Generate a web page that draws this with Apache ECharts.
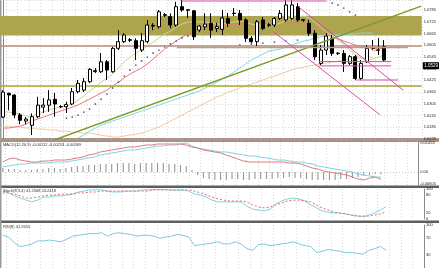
<!DOCTYPE html>
<html><head><meta charset="utf-8">
<script src="https://cdn.jsdelivr.net/npm/echarts@6/dist/echarts.min.js"></script>
<style>html,body{margin:0;padding:0;background:#fff;overflow:hidden}#c{width:439px;height:268px}</style>
</head><body><div id="c"></div>
<script>
// ---- data ----
const categories = Array.from({length: 73}, (_, i) => 'D' + (i + 1));
const open  = [1.0237,1.0359,1.0350,1.0248,1.0217,1.0195,1.0239,1.0288,1.0298,1.0328,1.0291,1.0290,1.0304,1.0367,1.0375,1.0418,1.0470,1.0469,1.0520,1.0469,1.0589,1.0623,1.0633,1.0628,1.0580,1.0623,1.0706,1.0699,1.0761,1.0751,1.0708,1.0802,1.0786,1.0781,1.0682,1.0699,1.0717,1.0690,1.0686,1.0742,1.0769,1.0768,1.0734,1.0640,1.0623,1.0734,1.0709,1.0708,1.0742,1.0734,1.0742,1.0802,1.0735,1.0717,1.0666,1.0512,1.0580,1.0640,1.0564,1.0563,1.0512,1.0546,1.0435,1.0520,1.0590,1.0581,1.0597];
const close = [1.0365,1.0350,1.0248,1.0221,1.0227,1.0239,1.0298,1.0299,1.0325,1.0304,1.0290,1.0302,1.0367,1.0410,1.0418,1.0481,1.0475,1.0520,1.0478,1.0589,1.0623,1.0657,1.0630,1.0589,1.0628,1.0708,1.0703,1.0776,1.0758,1.0708,1.0802,1.0785,1.0784,1.0648,1.0703,1.0713,1.0682,1.0700,1.0744,1.0717,1.0767,1.0734,1.0640,1.0623,1.0725,1.0691,1.0707,1.0742,1.0768,1.0811,1.0811,1.0734,1.0733,1.0666,1.0546,1.0580,1.0652,1.0563,1.0562,1.0512,1.0546,1.0435,1.0512,1.0589,1.0588,1.0579,1.0529];
const low   = [1.0232,1.0272,1.0232,1.0201,1.0201,1.0145,1.0232,1.0258,1.0264,1.0239,1.0283,1.0258,1.0298,1.0359,1.0365,1.0411,1.0463,1.0463,1.0427,1.0464,1.0580,1.0616,1.0621,1.0529,1.0570,1.0614,1.0682,1.0691,1.0749,1.0691,1.0699,1.0776,1.0744,1.0631,1.0672,1.0682,1.0642,1.0672,1.0657,1.0698,1.0754,1.0708,1.0621,1.0616,1.0601,1.0682,1.0698,1.0698,1.0734,1.0724,1.0734,1.0724,1.0724,1.0652,1.0529,1.0503,1.0555,1.0550,1.0555,1.0468,1.0503,1.0426,1.0426,1.0514,1.0580,1.0555,1.0519];
const high  = [1.0375,1.0362,1.0354,1.0258,1.0237,1.0256,1.0341,1.0334,1.0375,1.0360,1.0298,1.0316,1.0386,1.0427,1.0437,1.0488,1.0488,1.0565,1.0529,1.0597,1.0682,1.0667,1.0641,1.0640,1.0667,1.0734,1.0718,1.0785,1.0770,1.0768,1.0827,1.0836,1.0790,1.0785,1.0708,1.0768,1.0768,1.0720,1.0785,1.0770,1.0795,1.0785,1.0744,1.0652,1.0734,1.0749,1.0718,1.0749,1.0785,1.0836,1.0836,1.0821,1.0739,1.0734,1.0682,1.0606,1.0667,1.0657,1.0570,1.0580,1.0555,1.0555,1.0529,1.0606,1.0631,1.0642,1.0631];

const fastMA = [1.0263,1.0263,1.0258,1.0253,1.0242,1.0242,1.0253,1.0263,1.0273,1.0283,1.0288,1.0293,1.0304,1.0324,1.0345,1.0370,1.0391,1.0416,1.0437,1.0457,1.0488,1.0519,1.0544,1.0565,1.0580,1.0601,1.0621,1.0642,1.0662,1.0677,1.0698,1.0713,1.0724,1.0724,1.0724,1.0724,1.0718,1.0713,1.0713,1.0718,1.0724,1.0729,1.0724,1.0713,1.0708,1.0708,1.0708,1.0708,1.0718,1.0729,1.0744,1.0749,1.0754,1.0744,1.0724,1.0698,1.0672,1.0652,1.0631,1.0606,1.0580,1.0555,1.0539,1.0529,1.0534,1.0544,1.0555];
const pinkMA = [1.0181,1.0181,1.0186,1.0191,1.0201,1.0217,1.0227,1.0237,1.0247,1.0258,1.0268,1.0278,1.0288,1.0299,1.0314,1.0329,1.0345,1.0360,1.0375,1.0396,1.0416,1.0437,1.0457,1.0473,1.0488,1.0509,1.0534,1.0560,1.0585,1.0606,1.0626,1.0647,1.0662,1.0677,1.0693,1.0698,1.0703,1.0708,1.0708,1.0713,1.0713,1.0713,1.0713,1.0713,1.0718,1.0718,1.0718,1.0718,1.0718,1.0718,1.0718,1.0718,1.0713,1.0708,1.0693,1.0677,1.0662,1.0647,1.0637,1.0626,1.0616,1.0606,1.0601,1.0596,1.0590,1.0590,1.0585];
const cyanMA = [null,null,null,null,null,null,null,null,null,null,null,null,null,1.0130,1.0145,1.0165,1.0181,1.0196,1.0206,1.0217,1.0227,1.0237,1.0247,1.0258,1.0268,1.0278,1.0288,1.0299,1.0309,1.0319,1.0329,1.0340,1.0350,1.0360,1.0370,1.0386,1.0401,1.0416,1.0432,1.0447,1.0468,1.0488,1.0509,1.0529,1.0544,1.0560,1.0575,1.0580,1.0585,1.0596,1.0606,1.0616,1.0626,1.0631,1.0642,1.0647,1.0652,1.0657,1.0657,1.0662,1.0662,1.0662,1.0667,1.0667,1.0667];
const tanMA = [1.0191,1.0191,1.0186,1.0186,1.0181,1.0181,1.0176,1.0176,1.0171,1.0171,1.0165,1.0165,1.0160,1.0160,1.0155,1.0155,1.0150,1.0145,1.0140,1.0135,1.0135,1.0140,1.0145,1.0150,1.0155,1.0165,1.0176,1.0186,1.0201,1.0217,1.0232,1.0247,1.0263,1.0278,1.0293,1.0309,1.0324,1.0340,1.0350,1.0365,1.0375,1.0386,1.0396,1.0406,1.0416,1.0427,1.0437,1.0447,1.0457,1.0468,1.0478,1.0488,1.0493,1.0498,1.0503,1.0509,1.0514,1.0519,1.0524,1.0529,1.0534,1.0539,1.0539,1.0544,1.0544];
const sarDots = [[11,1.0232],[12,1.0237],[13,1.0247],[14,1.0263],[15,1.0278],[16,1.0304],[17,1.0329],[18,1.0355],[19,1.0386],[20,1.0416],[21,1.0447],[22,1.0478],[23,1.0503],[24,1.0524],[25,1.0544],[26,1.0565],[27,1.0580],[28,1.0596],[29,1.0611],[30,1.0626],[31,1.0642],[32,1.0652],[41,1.0606],[43,1.0611],[45,1.0616],[47,1.0621],[49,1.0626],[51,1.0631],[57,1.0821],[58,1.0811],[59,1.0795],[60,1.0775],[61,1.0759]];

// drawn objects (bar index, price)
const trendGreen = [[8.8, 1.0119], [72.4, 1.0805]];
const magentaTop = [[30.9, 1.0831], [56.0, 1.0831]];
const channelA = [[51.2, 1.0800], [69.3, 1.0375]];
const channelB = [[46.9, 1.0672], [65.3, 1.0248]];
const magentaLevel1 = [[54.7, 1.0521], [67.2, 1.0521]];
const magentaLevel2 = [[54.7, 1.0499], [67.2, 1.0499]];
const magentaLevel3 = [[61.2, 1.0427], [68.4, 1.0427]];
const brownShort = [[30.1, 1.0593], [70.1, 1.0593]];
const brownLevel = 1.0573;
const oliveLevel = 1.0375;
const bandTop = 1.0754, bandBottom = 1.0655;
const lastPrice = 1.0529;
const pivotMark = [[64.2, 1.0590]];

const macdMain = [0.0025,0.0030,0.0035,0.0040,0.0040,0.0045,0.0045,0.0045,0.0045,0.0050,0.0050,0.0050,0.0055,0.0060,0.0065,0.0070,0.0075,0.0085,0.0090,0.0095,0.0100,0.0105,0.0110,0.0110,0.0115,0.0120,0.0125,0.0130,0.0130,0.0135,0.0135,0.0140,0.0145,0.0130,0.0120,0.0115,0.0110,0.0105,0.0100,0.0100,0.0095,0.0090,0.0085,0.0080,0.0080,0.0075,0.0070,0.0065,0.0060,0.0060,0.0055,0.0050,0.0050,0.0045,0.0040,0.0030,0.0025,0.0020,0.0015,0.0010,0.0005,0.0000,-0.0010,-0.0015,-0.0020,-0.0025,-0.00253];
const macdSignal = [0.0050,0.0065,0.0070,0.0060,0.0055,0.0050,0.0050,0.0055,0.0055,0.0060,0.0060,0.0060,0.0065,0.0070,0.0075,0.0085,0.0090,0.0100,0.0105,0.0110,0.0115,0.0120,0.0125,0.0125,0.0130,0.0135,0.0135,0.0140,0.0140,0.0140,0.0140,0.0140,0.0135,0.0125,0.0120,0.0110,0.0105,0.0100,0.0095,0.0085,0.0075,0.0065,0.0055,0.0050,0.0050,0.0050,0.0050,0.0050,0.0050,0.0050,0.0045,0.0045,0.0040,0.0030,0.0020,0.0015,0.0005,0.0000,-0.0005,-0.0010,-0.0015,-0.0025,-0.0035,-0.0040,-0.0030,-0.0025,-0.00369];
const macdHist = [0.0020,0.0015,0.0015,0.0010,0.0010,0.0010,0.0015,0.0015,0.0020,0.0020,0.0015,0.0020,0.0025,0.0030,0.0030,0.0035,0.0035,0.0040,0.0040,0.0040,0.0045,0.0045,0.0045,0.0040,0.0045,0.0045,0.0045,0.0045,0.0045,0.0040,0.0040,0.0035,0.0030,0.0010,-0.0015,-0.0030,-0.0035,-0.0040,-0.0040,-0.0040,-0.0035,-0.0035,-0.0040,-0.0040,-0.0035,-0.0035,-0.0035,-0.0035,-0.0030,-0.0030,-0.0025,-0.0030,-0.0030,-0.0035,-0.0040,-0.0040,-0.0040,-0.0040,-0.0040,-0.0035,-0.0035,-0.0030,-0.0025,-0.0020,-0.0015,-0.0010,-0.00112];
const macdLabels = [0.01453, 0, -0.00605];

const stochK = [93,87,77,70,63,57,63,73,73,77,77,80,83,90,93,97,97,97,93,90,90,93,93,93,97,97,98,98,98,96,96,96,93,83,80,73,63,57,57,57,57,57,43,33,30,27,33,50,60,67,70,67,60,47,37,27,23,20,20,17,13,10,7,13,20,30,41.26];
const stochD = [87,87,83,77,70,70,73,77,80,80,83,83,83,87,87,90,90,93,93,93,93,93,93,93,93,93,97,97,97,97,97,97,97,93,87,80,73,67,63,60,60,60,57,47,40,37,40,47,53,60,63,63,60,57,47,37,30,23,20,17,13,10,10,10,13,17,24.24];
const stochLabels = [100, 80, 20, 0];
const rsi = [76,72,58,50,52,56,63,63,65,63,61,67,74,76,78,80,80,82,74,80,82,80,78,74,76,76,74,69,72,74,78,76,72,52,54,56,58,61,56,56,61,56,45,41,54,56,52,54,56,58,61,56,52,50,36,39,43,41,39,36,36,34,32,41,45,50,41.27];
const rsiLabels = [100, 70, 30];

// ---- chart ----
const FONT = 'Liberation Sans';
const lblStyle = {fontSize: 4, color: '#222', fontFamily: FONT, margin: 2};
const dotted = {type: [1, 2], color: '#bdbdbd', width: 0.6};
const candles = open.map((o, i) => [o, close[i], low[i], high[i]]);

function catAxis(gi) {
  return {type: 'category', gridIndex: gi, data: categories, boundaryGap: true,
    axisLine: {show: false}, axisTick: {show: false}, axisLabel: {show: false},
    splitLine: {show: true, interval: (i) => i % 2 === 1, lineStyle: dotted}};
}
function seg(name, data, color, width, type) {
  return {name, type: 'line', xAxisIndex: 4, yAxisIndex: 0, data, symbol: 'none', silent: true,
    lineStyle: {color, width, type: type || 'solid'}, z: 6};
}

const option = {
  animation: false,
  backgroundColor: '#ffffff',
  title: [
    {text: 'MACD(12,26,9) -0.00112 -0.00253 -0.00369', left: 3, top: 143, padding: 0,
      textStyle: {fontSize: 4, color: '#333', fontWeight: 'normal', fontFamily: FONT}},
    {text: 'Stoch(8,3,4) 41.2568 24.2418', left: 3, top: 189, padding: 0,
      textStyle: {fontSize: 4, color: '#333', fontWeight: 'normal', fontFamily: FONT}},
    {text: 'RSI(8) 41.2655', left: 3, top: 225, padding: 0,
      textStyle: {fontSize: 4, color: '#333', fontWeight: 'normal', fontFamily: FONT}}
  ],
  grid: [
    {left: -1, width: 425, top: 0, height: 139},
    {left: -1, width: 425, top: 142, height: 44},
    {left: -1, width: 425, top: 189, height: 30},
    {left: -1, width: 425, top: 225, height: 45.7}
  ],
  xAxis: [catAxis(0), catAxis(1), catAxis(2), catAxis(3),
    {type: 'value', gridIndex: 0, min: -0.5, max: 72.5, show: false}],
  yAxis: [
    {type: 'value', gridIndex: 0, position: 'right', min: 1.0125, max: 1.08362, interval: 0.006,
      axisLine: {show: true, lineStyle: {color: '#8a8a8a', width: 1}},
      axisTick: {show: false},
      axisLabel: Object.assign({}, lblStyle, {showMaxLabel: false,
        formatter: (v) => v > 1.0800 ? '' : v.toFixed(4)}),
      splitLine: {show: true, lineStyle: dotted}},
    {type: 'value', gridIndex: 1, position: 'right', min: -0.007, max: 0.015,
      axisLine: {show: true, lineStyle: {color: '#8a8a8a', width: 1}},
      axisTick: {show: false},
      axisLabel: Object.assign({}, lblStyle, {customValues: macdLabels,
        formatter: (v) => Math.abs(v) < 1e-9 ? '0.00' : v.toFixed(5)}),
      splitLine: {show: false}},
    {type: 'value', gridIndex: 2, position: 'right', min: 0, max: 100,
      axisLine: {show: true, lineStyle: {color: '#8a8a8a', width: 1}},
      axisTick: {show: false},
      axisLabel: Object.assign({}, lblStyle, {customValues: stochLabels}),
      splitLine: {show: false}},
    {type: 'value', gridIndex: 3, position: 'right', min: 0, max: 100,
      axisLine: {show: true, lineStyle: {color: '#8a8a8a', width: 1}},
      axisTick: {show: false},
      axisLabel: Object.assign({}, lblStyle, {customValues: rsiLabels}),
      splitLine: {show: false}}
  ],
  graphic: [
    {type: 'rect', z: -10, shape: {x: 0, y: 138, width: 439, height: 4}, style: {fill: '#a89082'}},
    {type: 'rect', z: -10, shape: {x: 0, y: 185.5, width: 439, height: 2.5}, style: {fill: '#5e5e5e'}},
    {type: 'rect', z: -10, shape: {x: 0, y: 220.5, width: 439, height: 2.5}, style: {fill: '#5e5e5e'}},
    {type: 'rect', z: -10, shape: {x: 0, y: 0, width: 1.5, height: 268}, style: {fill: '#9a9a9a'}}
  ],
  series: [
    {name: 'levels', type: 'line', xAxisIndex: 0, yAxisIndex: 0, data: [], silent: true, z: 1,
      markArea: {silent: true, itemStyle: {color: '#aea44e'}, data: [[{yAxis: bandTop}, {yAxis: bandBottom}]]},
      markLine: {silent: true, symbol: 'none', label: {show: false},
        data: [
          {yAxis: brownLevel, lineStyle: {color: '#b98a78', width: 1.5, type: 'solid'}},
          {yAxis: oliveLevel, lineStyle: {color: '#a6a32e', width: 1.5, type: 'solid'}}
        ]}},
    {name: 'tan', type: 'line', xAxisIndex: 0, yAxisIndex: 0, data: tanMA, symbol: 'none', z: 3,
      lineStyle: {color: '#f2c9a0', width: 1}},
    {name: 'cyan', type: 'line', xAxisIndex: 0, yAxisIndex: 0, data: cyanMA, symbol: 'none', z: 3,
      lineStyle: {color: '#7fd6e6', width: 1}},
    {name: 'pink', type: 'line', xAxisIndex: 0, yAxisIndex: 0, data: pinkMA, symbol: 'none', z: 3,
      lineStyle: {color: '#e8787a', width: 1}},
    {name: 'fast', type: 'line', xAxisIndex: 0, yAxisIndex: 0, data: fastMA, symbol: 'none', z: 3,
      lineStyle: {color: '#c9d58e', width: 1}},
    {name: 'sar', type: 'scatter', xAxisIndex: 0, yAxisIndex: 0, data: sarDots, symbolSize: 1.8, z: 4,
      itemStyle: {color: '#3a3a66'}},
    {name: 'price', type: 'candlestick', xAxisIndex: 0, yAxisIndex: 0, data: candles, barWidth: 3.5, z: 5,
      itemStyle: {color: '#ffffff', color0: '#000000', borderColor: '#000000', borderColor0: '#000000', borderWidth: 1},
      markLine: {silent: true, symbol: 'none', z: 20,
        lineStyle: {color: 'rgba(0,0,0,0)', width: 0.1, type: 'solid'},
        label: {show: true, position: 'end', distance: 1, formatter: lastPrice.toFixed(4),
          backgroundColor: '#000000', color: '#ffffff', fontSize: 4.5, fontFamily: FONT, padding: [1, 1.5]},
        data: [{yAxis: lastPrice}]}},
    seg('trendGreen', trendGreen, '#7c9a27', 1.5),
    seg('brownShort', brownShort, '#c29a88', 1.5),
    seg('magentaTop', magentaTop, '#e04aa8', 1),
    seg('channelA', channelA, '#e04aa8', 1),
    seg('channelB', channelB, '#e04aa8', 1),
    seg('magLevel1', magentaLevel1, '#e04aa8', 1),
    seg('magLevel2', magentaLevel2, '#e04aa8', 1),
    seg('magLevel3', magentaLevel3, '#e04aa8', 1),
    {name: 'pivot', type: 'scatter', xAxisIndex: 4, yAxisIndex: 0, data: pivotMark, symbol: 'circle',
      symbolSize: 5, z: 7, itemStyle: {color: 'rgba(0,0,0,0)', borderColor: '#e8905a', borderWidth: 1}},
    // MACD
    {name: 'hist', type: 'bar', xAxisIndex: 1, yAxisIndex: 1, data: macdHist, barWidth: 1,
      itemStyle: {color: '#8c8c8c'}, z: 2,
      markLine: {silent: true, symbol: 'none', label: {show: false},
        lineStyle: {type: [1, 2], color: '#aaaaaa', width: 0.6}, data: [{yAxis: 0}]}},
    {name: 'macd', type: 'line', xAxisIndex: 1, yAxisIndex: 1, data: macdMain, symbol: 'none', z: 3,
      lineStyle: {color: '#7fd3e4', width: 1}},
    {name: 'signal', type: 'line', xAxisIndex: 1, yAxisIndex: 1, data: macdSignal, symbol: 'none', z: 3,
      lineStyle: {color: '#e07a7a', width: 1}},
    // Stochastic
    {name: 'K', type: 'line', xAxisIndex: 2, yAxisIndex: 2, data: stochK, symbol: 'none',
      lineStyle: {color: '#7fd3e4', width: 1}},
    {name: 'D', type: 'line', xAxisIndex: 2, yAxisIndex: 2, data: stochD, symbol: 'none',
      lineStyle: {color: '#e06a6a', width: 1, type: [2, 2]}},
    // RSI
    {name: 'RSI', type: 'line', xAxisIndex: 3, yAxisIndex: 3, data: rsi, symbol: 'none',
      lineStyle: {color: '#7fc8e0', width: 1}}
  ]
};
const chart = echarts.init(document.getElementById('c'), null, {renderer: 'canvas'});
chart.setOption(option);
</script></body></html>
